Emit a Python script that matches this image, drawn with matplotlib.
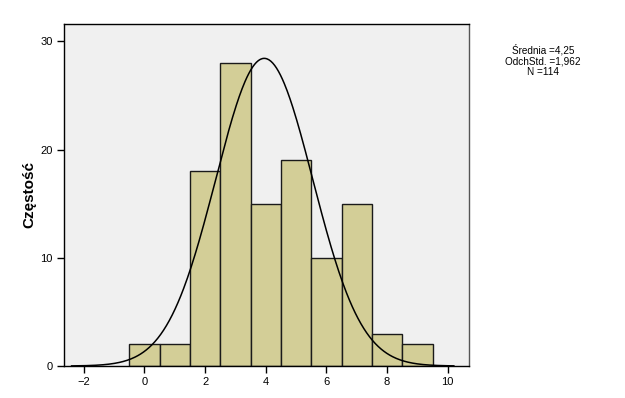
import numpy as np
import matplotlib.pyplot as plt

plt.rcParams['font.family'] = ['Liberation Sans', 'DejaVu Sans']

# histogram bins (centres) and counts
bin_centers = [0, 1, 2, 3, 4, 5, 6, 7, 8, 9]
counts = [2, 2, 18, 28, 15, 19, 10, 15, 3, 2]
bin_width = 1.0

# normal curve as drawn in the chart
curve_mean = 3.95
curve_sd = 1.6
n_total = 114

stats_text = "Średnia =4,25\nOdchStd. =1,962\nN =114"

fig = plt.figure(figsize=(6.25, 3.98), dpi=100)
ax = fig.add_axes([64 / 625, 1 - 366 / 398, (469 - 64) / 625, (366 - 24) / 398])
ax.set_facecolor('#f0f0f0')

ax.bar(bin_centers, counts, width=bin_width, color='#d3ce97',
       edgecolor='#1a1a1a', linewidth=1.0, zorder=2)

xs = np.linspace(-2.4, 10.2, 400)
ys = n_total * bin_width / (curve_sd * np.sqrt(2 * np.pi)) * np.exp(-0.5 * ((xs - curve_mean) / curve_sd) ** 2)
ax.plot(xs, ys, color='black', linewidth=1.1, zorder=3)

ax.set_xlim(-2.65, 10.7)
ax.set_ylim(0, 31.6)
ax.set_xticks([-2, 0, 2, 4, 6, 8, 10])
ax.set_yticks([0, 10, 20, 30])
ax.tick_params(direction='out', length=5, width=1, labelsize=8, pad=3)
for s in ax.spines.values():
    s.set_linewidth(1.0)
ax.spines['right'].set_color('#555555')

ax.set_ylabel('Częstość', fontsize=11, fontweight='bold')
ax.yaxis.set_label_coords(-0.067, 0.5)

fig.text(543 / 625, 1 - 44 / 398, stats_text, ha='center', va='top',
         fontsize=7.2, linespacing=1.1)

fig.savefig('out.png', dpi=100)
